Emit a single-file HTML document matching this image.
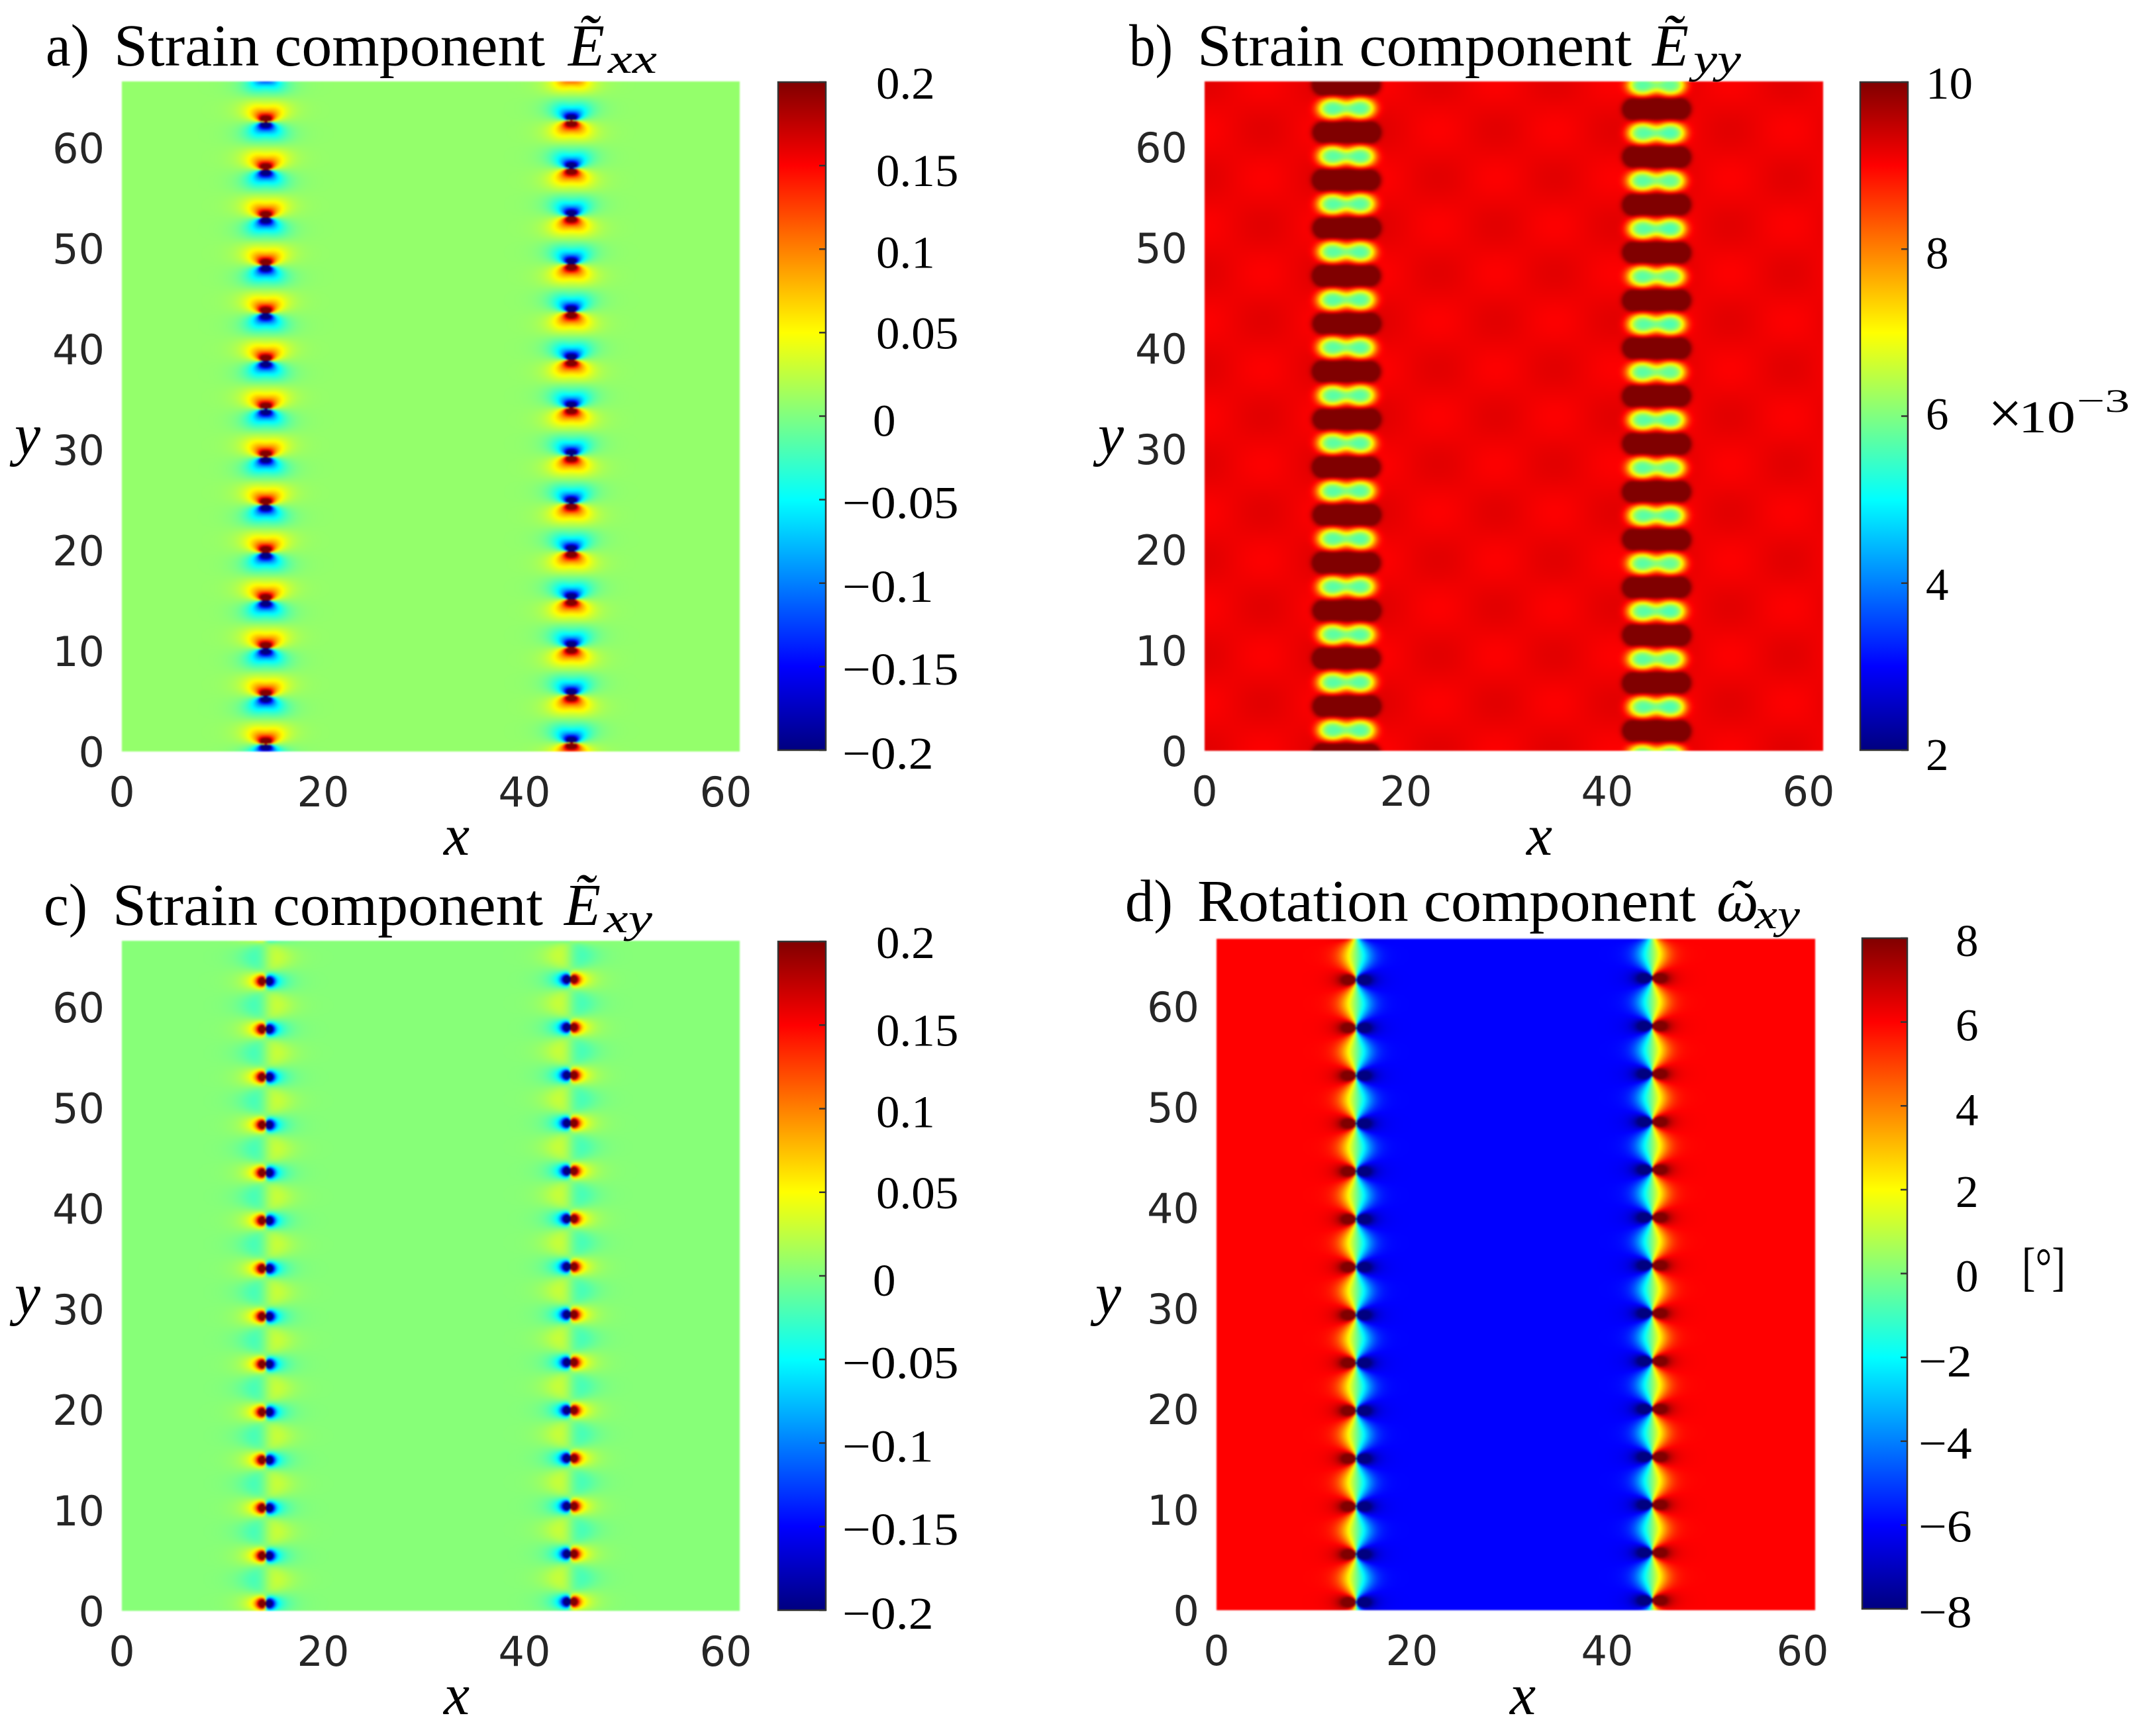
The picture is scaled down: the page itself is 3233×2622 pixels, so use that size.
<!DOCTYPE html>
<html lang="en">
<head>
<meta charset="utf-8">
<title>Strain and rotation components</title>
<style>
html,body{margin:0;padding:0;background:#fff;}
#stage{position:relative;width:3233px;height:2622px;overflow:hidden;background:#fff;}
canvas{position:absolute;display:block;filter:blur(1px);}
svg{position:absolute;left:0;top:0;}
.ttl{font-family:"Liberation Serif",serif;font-size:90px;fill:#000;}
.it{font-family:"Liberation Serif",serif;font-style:italic;fill:#000;}
.tick{font-family:"DejaVu Sans",sans-serif;font-size:62px;fill:#262626;}
.cb{font-family:"Liberation Serif",serif;font-size:69px;fill:#000;}
</style>
</head>
<body>
<div id="stage">
<canvas id="fieldA" width="467" height="506" style="left:184px;top:123px;width:933px;height:1012px"></canvas>
<canvas id="fieldB" width="467" height="506" style="left:1819px;top:123px;width:934px;height:1011px"></canvas>
<canvas id="fieldC" width="467" height="506" style="left:184px;top:1421px;width:933px;height:1012px"></canvas>
<canvas id="fieldD" width="452" height="507" style="left:1837px;top:1418px;width:904px;height:1014px"></canvas>
<svg id="overlay" width="3233" height="2622" viewBox="0 0 3233 2622" xmlns="http://www.w3.org/2000/svg">
<defs>
<linearGradient id="jetGrad" x1="0" y1="1" x2="0" y2="0">
<stop offset="0" stop-color="#000080"/>
<stop offset="0.125" stop-color="#0000ff"/>
<stop offset="0.375" stop-color="#00ffff"/>
<stop offset="0.5" stop-color="#80ff80"/>
<stop offset="0.625" stop-color="#ffff00"/>
<stop offset="0.875" stop-color="#ff0000"/>
<stop offset="1" stop-color="#800000"/>
</linearGradient>
</defs>

<g>
<text class="ttl" x="69" y="99" textLength="66" lengthAdjust="spacingAndGlyphs">a)</text>
<text class="ttl" x="172" y="99" textLength="651" lengthAdjust="spacingAndGlyphs">Strain component</text>
<text class="it" x="858" y="99" font-size="90">Ẽ</text>
<text class="it" x="918" y="110" font-size="62" textLength="74" lengthAdjust="spacingAndGlyphs">xx</text>
</g>
<g>
<text class="ttl" x="1705" y="99" textLength="66" lengthAdjust="spacingAndGlyphs">b)</text>
<text class="ttl" x="1808" y="99" textLength="656" lengthAdjust="spacingAndGlyphs">Strain component</text>
<text class="it" x="2495" y="99" font-size="90">Ẽ</text>
<text class="it" x="2557" y="110" font-size="62" textLength="72" lengthAdjust="spacingAndGlyphs">yy</text>
</g>
<g>
<text class="ttl" x="66" y="1397" textLength="66" lengthAdjust="spacingAndGlyphs">c)</text>
<text class="ttl" x="170" y="1397" textLength="650" lengthAdjust="spacingAndGlyphs">Strain component</text>
<text class="it" x="852" y="1397" font-size="90">Ẽ</text>
<text class="it" x="912" y="1408" font-size="62" textLength="73" lengthAdjust="spacingAndGlyphs">xy</text>
</g>
<g>
<text class="ttl" x="1699" y="1391" textLength="72" lengthAdjust="spacingAndGlyphs">d)</text>
<text class="ttl" x="1808" y="1391" textLength="753" lengthAdjust="spacingAndGlyphs">Rotation component</text>
<text class="it" x="2592" y="1391" font-size="90">ω</text>
<text class="it" x="2611" y="1391" font-size="90">˜</text>
<text class="it" x="2650" y="1402" font-size="62" textLength="68" lengthAdjust="spacingAndGlyphs">xy</text>
</g>

<text class="it" x="670" y="1291" font-size="88">x</text>
<text class="it" x="2305" y="1291" font-size="88">x</text>
<text class="it" x="670" y="2589" font-size="88">x</text>
<text class="it" x="2280" y="2589" font-size="88">x</text>
<text class="it" x="22" y="686" font-size="88">y</text>
<text class="it" x="1658" y="686" font-size="88">y</text>
<text class="it" x="22" y="1984" font-size="88">y</text>
<text class="it" x="1654" y="1984" font-size="88">y</text>

<g>
<text class="cb" x="3002" y="655" style="font-size:92px">×</text>
<text class="cb" x="3048" y="653" textLength="86" lengthAdjust="spacingAndGlyphs">10</text>
<text class="cb" x="3136" y="622" style="font-size:50px" textLength="80" lengthAdjust="spacingAndGlyphs">−3</text>
</g>
<text class="cb" x="3053" y="1940" textLength="66" lengthAdjust="spacingAndGlyphs" style="font-size:80px">[°]</text>
</svg>
</div>
<script>
// Axis ticks
const xTickValues = [0, 20, 40, 60];
const yTickValues = [0, 10, 20, 30, 40, 50, 60];
// Colorbar ticks and printed labels
const strainBarValues = [-0.2, -0.15, -0.1, -0.05, 0, 0.05, 0.1, 0.15, 0.2];
const strainBarLabels = ['−0.2', '−0.15', '−0.1', '−0.05', '0', '0.05', '0.1', '0.15', '0.2'];
const eyyBarValues = [2, 4, 6, 8, 10];
const eyyBarLabels = ['2', '4', '6', '8', '10'];
const rotBarValues = [-8, -6, -4, -2, 0, 2, 4, 6, 8];
const rotBarLabels = ['−8', '−6', '−4', '−2', '0', '2', '4', '6', '8'];
// Wall locations (x data units)
const wallXA = [14.3, 44.7];
const wallXB = [14.1, 44.9];
const wallXC = [14.3, 44.6];
const wallXD = [14.3, 44.6];
// Dislocation core heights along each wall (y data units)
const coresALeft = [-4.04, 0.72, 5.48, 10.23, 14.99, 19.75, 24.51, 29.26, 34.02, 38.78, 43.53, 48.29, 53.05, 57.80, 62.56, 67.32, 72.08];
const coresARight = [-3.90, 0.86, 5.62, 10.37, 15.13, 19.89, 24.65, 29.40, 34.16, 38.92, 43.67, 48.43, 53.19, 57.94, 62.70, 67.46, 72.22];
const coresCLeft = [-4.04, 0.72, 5.48, 10.23, 14.99, 19.75, 24.51, 29.26, 34.02, 38.78, 43.53, 48.29, 53.05, 57.80, 62.56, 67.32, 72.08];
const coresCRight = [-3.86, 0.90, 5.66, 10.41, 15.17, 19.93, 24.69, 29.44, 34.20, 38.96, 43.71, 48.47, 53.23, 57.98, 62.74, 67.50, 72.26];
const coresDLeft = [-3.97, 0.79, 5.55, 10.30, 15.06, 19.82, 24.58, 29.33, 34.09, 38.85, 43.60, 48.36, 53.12, 57.87, 62.63, 67.39, 72.15];
const coresDRight = [-3.80, 0.96, 5.72, 10.47, 15.23, 19.99, 24.75, 29.50, 34.26, 39.02, 43.77, 48.53, 53.29, 58.04, 62.80, 67.56, 72.32];
// Low-strain blob centres along each wall in panel b (y data units); high-strain bars sit between them
const blobsBLeft = [-2.70, 2.06, 6.82, 11.57, 16.33, 21.09, 25.85, 30.60, 35.36, 40.12, 44.87, 49.63, 54.39, 59.14, 63.90, 68.66];
const blobsBRight = [-0.39, 4.37, 9.13, 13.88, 18.64, 23.40, 28.16, 32.91, 37.67, 42.43, 47.18, 51.94, 56.70, 61.45, 66.21, 70.97];
// Field levels
const backgroundLevels = [0.008, 9.12, 0.003, 6];   // far-field value of panels a, b, c, d
const coreStrengths = [0.088, 3.4, 0.06];           // lobe amplitudes of panels a, b, c

const stage = document.getElementById('stage');
const svg = document.getElementById('overlay');
const NS = 'http://www.w3.org/2000/svg';

function jet(t) {
  const c = (v) => Math.max(0, Math.min(1, v));
  t = c(t);
  return [
    255 * c(1.5 - Math.abs(4 * t - 3)),
    255 * c(1.5 - Math.abs(4 * t - 2)),
    255 * c(1.5 - Math.abs(4 * t - 1))
  ];
}

function coreFrame(y, cores) {
  let i = 0;
  while (i < cores.length - 2 && y > cores[i + 1]) i++;
  const h = cores[i + 1] - cores[i];
  const v = y - cores[i];
  return { v: v, h: h, w: v > h / 2 ? v - h : v };
}

function periodicTerms(u, v, h) {
  const a = Math.PI / h;
  const su = Math.max(-30, Math.min(30, 2 * a * u));
  const ch = Math.cosh(su), sh = Math.sinh(su);
  const cv = Math.cos(2 * a * v), sv = Math.sin(2 * a * v);
  const D = Math.max(ch - cv, 1e-9);
  const C = ch * cv - 1, T = sh * sv;
  const N = Math.max(C * C + T * T, 1e-12);
  return {
    reCoth: sh / D,
    imCoth: -sv / D,
    reCsch: 2 * C / N,
    imCsch: -2 * T / N,
    a: a
  };
}

function exxField(x, y) {
  let f = backgroundLevels[0];
  const signs = [1, -1];
  const lists = [coresALeft, coresARight];
  for (let w = 0; w < 2; w++) {
    const u = x - wallXA[w];
    if (Math.abs(u) > 16) continue;
    const fr = coreFrame(y, lists[w]);
    const p = periodicTerms(u, fr.v, fr.h);
    const full = -p.a * p.imCoth - u * p.a * p.a * p.imCsch;
    const r2 = u * u + fr.w * fr.w;
    const g = Math.exp(-r2 / 1.69);
    const round = fr.w / (u * u / 2.9 + fr.w * fr.w + 1e-6);
    const boost = 1 + 0.5 * Math.exp(-r2);
    f += signs[w] * coreStrengths[0] * ((1 - g) * full + g * round * boost);
  }
  return (f + 0.2) / 0.4;
}

function exyField(x, y) {
  let f = backgroundLevels[2];
  const signs = [1, -1];
  const lists = [coresCLeft, coresCRight];
  for (let w = 0; w < 2; w++) {
    const u = x - wallXC[w];
    if (Math.abs(u) > 16) continue;
    const fr = coreFrame(y, lists[w]);
    const p = periodicTerms(u, fr.v, fr.h);
    const clover = -u * p.a * p.a * p.reCsch;
    const r2 = u * u + fr.w * fr.w;
    const g = Math.exp(-r2 / 1.69);
    const round = -u / (r2 + 1e-6);
    const boost = 1 + 2.5 * Math.exp(-r2);
    f += signs[w] * ((1 - g) * 0.085 * clover + g * coreStrengths[2] * round * boost);
  }
  return (f + 0.2) / 0.4;
}

function rotField(x, y) {
  let f = backgroundLevels[3];
  const signs = [-1, 1];
  const lists = [coresDLeft, coresDRight];
  for (let w = 0; w < 2; w++) {
    const u = x - wallXD[w];
    const fr = coreFrame(y, lists[w]);
    const k = 0.65 + 0.35 * (1 + Math.cos(2 * Math.PI * fr.v / fr.h)) / 2;
    const uu = u * (1 - (1 - k) * Math.exp(-(u / 2) * (u / 2)));
    const vv = fr.w * (1 + 0.5 * Math.exp(-(u / 3) * (u / 3) - (fr.w / 1.2) * (fr.w / 1.2)));
    const p = periodicTerms(uu, vv, fr.h);
    f += signs[w] * 6 * p.reCoth;
  }
  return (f + 8) / 16;
}

function lobe(du, dv, hs, vs) {
  const r = Math.sqrt((du / hs) * (du / hs) + (dv / vs) * (dv / vs));
  return Math.exp(-r * r * r);
}

function eyyField(x, y) {
  let f = backgroundLevels[1] + 0.1 * Math.cos(2 * Math.PI * x / 11.6) * Math.cos(2 * Math.PI * y / 9.5);
  const lists = [blobsBLeft, blobsBRight];
  for (let w = 0; w < 2; w++) {
    const u = x - wallXB[w];
    if (Math.abs(u) > 6) continue;
    const list = lists[w];
    for (let i = 0; i < list.length; i++) {
      const dv = y - list[i];
      if (Math.abs(dv) > 4.8) continue;
      // dumbbell-shaped low-strain blob
      f -= coreStrengths[1] * (lobe(u - 1.38, dv, 1.5, 1.05) + lobe(u + 1.38, dv, 1.5, 1.05));
      // rounded high-strain bar centred half a period above the blob
      if (i < list.length - 1) {
        const mid = (list[i] + list[i + 1]) / 2;
        const du2 = Math.max(0, Math.abs(u) - 2.2) / 1.2;
        const dv2 = (y - mid) / 1.12;
        const d = Math.sqrt(du2 * du2 + dv2 * dv2);
        f += 1.7 * Math.exp(-d * d * d * d);
      }
    }
  }
  return (f - 2) / 8;
}

function paintField(id, fn, xPerCell, yPerCell) {
  const cv = document.getElementById(id);
  const ctx = cv.getContext('2d');
  const img = ctx.createImageData(cv.width, cv.height);
  for (let j = 0; j < cv.height; j++) {
    const y = (cv.height - j - 0.5) * yPerCell;
    for (let i = 0; i < cv.width; i++) {
      const x = (i + 0.5) * xPerCell;
      const rgb = jet(fn(x, y));
      const k = 4 * (j * cv.width + i);
      img.data[k] = rgb[0];
      img.data[k + 1] = rgb[1];
      img.data[k + 2] = rgb[2];
      img.data[k + 3] = 255;
    }
  }
  ctx.putImageData(img, 0, 0);
}

paintField('fieldA', exxField, 2 / 15.2, 2 / 15.2);
paintField('fieldB', eyyField, 2 / 15.2, 2 / 15.2);
paintField('fieldC', exyField, 2 / 15.2, 2 / 15.2);
paintField('fieldD', rotField, 2 / 14.75, 2 / 15.2);

function addText(cls, x, y, str, anchor) {
  const t = document.createElementNS(NS, 'text');
  t.setAttribute('class', cls);
  t.setAttribute('x', x);
  t.setAttribute('y', y);
  t.setAttribute('text-anchor', anchor);
  t.textContent = str;
  svg.appendChild(t);
  return t;
}

function drawAxes(left, bottom, sx, sy, labelRight) {
  const xScale = (v) => left + v * sx;
  const yScale = (v) => bottom - v * sy;
  xTickValues.forEach((v) => {
    const t = addText('tick', xScale(v), bottom + 83, String(v), 'middle');
    
    
  });
  yTickValues.forEach((v) => {
    const t = addText('tick', labelRight, yScale(v) + 23, String(v), 'end');
    
    
  });
}

function drawBar(name, x, w, top, bottom, values, labels, posX, negX, zeroX, nudge) {
  const min = values[0], max = values[values.length - 1];
  const yScale = (v) => bottom - (v - min) / (max - min) * (bottom - top);
  const r = document.createElementNS(NS, 'rect');
  r.setAttribute('x', x);
  r.setAttribute('y', top);
  r.setAttribute('width', w);
  r.setAttribute('height', bottom - top);
  r.setAttribute('fill', 'url(#jetGrad)');
  r.setAttribute('stroke', '#333333');
  r.setAttribute('stroke-width', '2.5');
  
  
  svg.appendChild(r);
  values.forEach((v, i) => {
    const l = document.createElementNS(NS, 'line');
    l.setAttribute('x1', x + w - 10);
    l.setAttribute('x2', x + w);
    l.setAttribute('y1', yScale(v));
    l.setAttribute('y2', yScale(v));
    l.setAttribute('stroke', '#333333');
    l.setAttribute('stroke-width', '2.5');
    
    
    svg.appendChild(l);
    const lab = labels[i];
    const neg = lab.charAt(0) === '−';
    const tx = neg ? negX : (lab === '0' ? zeroX : posX);
    const t = addText('cb', tx, yScale(v) + 23 + nudge[i], lab, 'start');
    
    
    const len = t.getComputedTextLength();
    if (len > 0 && lab.length > 1) {
      t.setAttribute('textLength', len * (neg ? 1.1 : 1.03));
      t.setAttribute('lengthAdjust', 'spacingAndGlyphs');
    }
  });
}

drawAxes(184, 1135, 15.2, 15.2, 158);
drawAxes(1819, 1134, 15.2, 15.2, 1793);
drawAxes(184, 2433, 15.2, 15.2, 158);
drawAxes(1837, 2432, 14.75, 15.2, 1811);

const strainLabelNudge = [5, 4, 5, 5, 7, 1, 5, 8, 2];
const eyyLabelNudge = [7, 2, -3, 6, 2];
const rotLabelNudge = [5, 2, 3, 6, 4, 3, 6, 5, 4];

drawBar('colorbar-a', 1175, 72, 124, 1133, strainBarValues, strainBarLabels, 1323, 1272, 1318, strainLabelNudge);
drawBar('colorbar-b', 2809, 72, 124, 1133, eyyBarValues, eyyBarLabels, 2908, 2908, 2908, eyyLabelNudge);
drawBar('colorbar-c', 1175, 72, 1422, 2432, strainBarValues, strainBarLabels, 1323, 1272, 1318, strainLabelNudge);
drawBar('colorbar-d', 2812, 68, 1417, 2430, rotBarValues, rotBarLabels, 2953, 2897, 2953, rotLabelNudge);
</script>
</body>
</html>
